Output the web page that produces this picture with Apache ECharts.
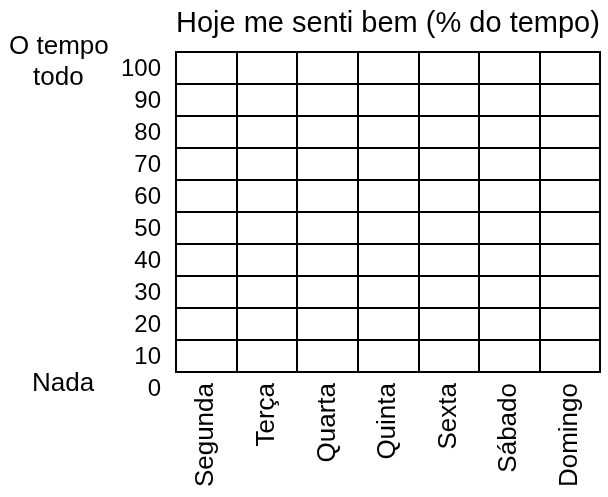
<!DOCTYPE html>
<html>
<head>
<meta charset="utf-8">
<script src="https://cdn.jsdelivr.net/npm/echarts@6/dist/echarts.min.js"></script>
<style>
  html, body { margin: 0; padding: 0; background: #fff; }
  #chart { width: 608px; height: 497px; }
</style>
</head>
<body>
<div id="chart"></div>
<script>
// dias da semana e escala (grade vazia para preencher)
const dias = ['Segunda', 'Terça', 'Quarta', 'Quinta', 'Sexta', 'Sábado', 'Domingo']
const valores = [null, null, null, null, null, null, null]
const yMin = 0
const yMax = 100
const yPasso = 10

const fonte = 'Liberation Sans, Arial, Helvetica, sans-serif'

const chart = echarts.init(document.getElementById('chart'))

const option = {
  animation: false,
  backgroundColor: '#fff',
  textStyle: { fontFamily: fonte, color: '#000' },
  title: {
    text: 'Hoje me senti bem (% do tempo)',
    left: 171,
    top: 4,
    textStyle: { fontSize: 29, fontWeight: 'normal', color: '#000', fontFamily: fonte }
  },
  grid: {
    left: 176,
    top: 52,
    width: 424,
    height: 320,
    show: true,
    borderColor: '#000',
    borderWidth: 2,
    backgroundColor: 'transparent'
  },
  xAxis: {
    type: 'category',
    data: dias,
    boundaryGap: true,
    axisLine: { show: true, lineStyle: { color: '#000', width: 2 } },
    axisTick: { show: false },
    splitLine: { show: true, lineStyle: { color: '#000', width: 2 } },
    axisLabel: {
      rotate: 90,
      interval: 0,
      margin: 11,
      fontSize: 26,
      color: '#000',
      fontFamily: fonte
    }
  },
  yAxis: {
    type: 'value',
    min: yMin,
    max: yMax,
    interval: yPasso,
    axisLine: { show: true, lineStyle: { color: '#000', width: 2 } },
    axisTick: { show: false },
    splitLine: { show: true, lineStyle: { color: '#000', width: 2 } },
    axisLabel: {
      margin: 15,
      fontSize: 24,
      color: '#000',
      fontFamily: fonte,
      verticalAlign: 'top',
      padding: [5, 0, 0, 0]
    }
  },
  graphic: [
    { type: 'text', left: 9, top: 34, style: { text: 'O tempo', fontSize: 26, fill: '#000', fontFamily: fonte } },
    { type: 'text', left: 33, top: 65, style: { text: 'todo', fontSize: 26, fill: '#000', fontFamily: fonte } },
    { type: 'text', left: 32, top: 371, style: { text: 'Nada', fontSize: 26, fill: '#000', fontFamily: fonte } }
  ],
  series: [
    { type: 'bar', data: valores, silent: true }
  ]
}

chart.setOption(option)
</script>
</body>
</html>
